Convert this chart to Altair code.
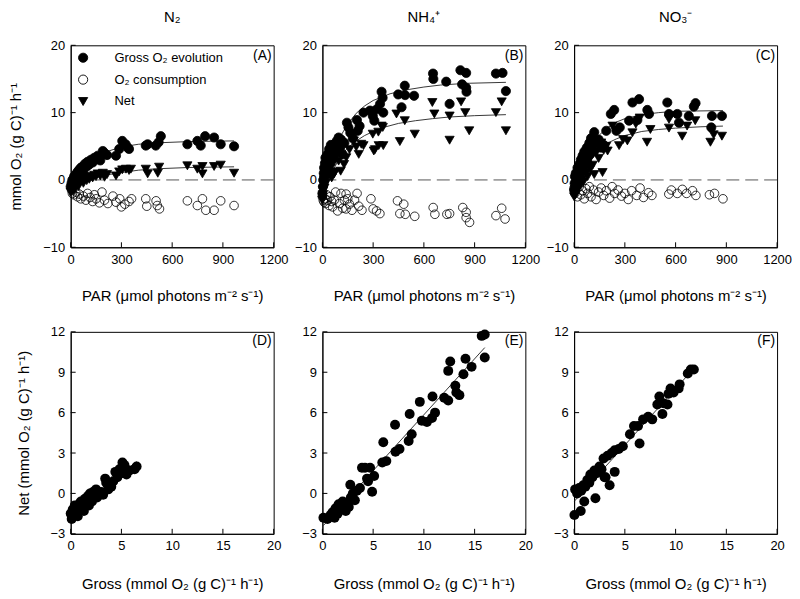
import altair as alt
import pandas as pd

FONT = "Liberation Sans"
SERIES = ["Gross O₂ evolution", "O₂ consumption", "Net"]
W, H = 204, 203

# ---------------- Panel A (N2): PAR response ----------------
A_gross_par = [0, 5, 10, 15, 20, 25, 30, 40, 45, 50, 60, 70, 75, 85, 95, 100, 110, 120, 130, 140,
               150, 160, 175, 190, 200, 215, 268, 287, 305, 325, 338, 345, 444, 455, 503, 520, 533,
               690, 749, 769, 795, 848, 887, 966]
A_gross_val = [-1.0, -0.5, 0.0, -0.3, 0.5, 0.2, 0.8, 1.2, 0.6, 1.5, 1.8, 2.0, 1.4, 2.4, 2.0, 2.7, 2.3, 3.0, 2.6, 3.3,
               3.1, 3.6, 2.9, 4.3, 4.0, 3.7, 3.6, 4.6, 5.8, 5.3, 4.8, 4.6, 5.1, 5.3, 5.1, 5.6, 6.5,
               5.3, 5.8, 5.1, 6.5, 6.3, 5.3, 5.0]
A_cons_par = [5, 10, 20, 30, 40, 50, 60, 75, 90, 100, 115, 130, 140, 150, 170, 185, 200, 220, 250, 268,
              290, 300, 320, 345, 360, 444, 450, 505, 512, 525, 690, 749, 779, 799, 848, 887, 966]
A_cons_val = [-1.5, -2.0, -2.2, -1.8, -2.5, -2.1, -2.8, -2.4, -3.0, -2.0, -2.6, -3.2, -2.2, -2.8, -3.4, -1.8, -3.0, -3.5, -2.4, -3.3,
              -2.8, -4.0, -3.6, -3.2, -2.8, -2.8, -3.9, -3.1, -3.8, -4.3, -3.1, -3.8, -2.8, -4.5, -4.5, -3.1, -3.8]
A_net_par = [0, 5, 10, 15, 20, 25, 30, 40, 45, 50, 60, 70, 75, 85, 95, 100, 110, 120, 130, 140,
             150, 160, 175, 190, 200, 215, 268, 287, 305, 327, 345, 356, 444, 455, 515, 523, 690, 749,
             779, 779, 848, 887, 966]
A_net_val = [-1.8, -1.5, -1.2, -1.6, -1.0, -1.3, -0.8, -0.5, -1.0, -0.3, -0.2, 0.0, -0.5, 0.2, -0.1, 0.4, 0.1, 0.5, 0.3, 0.7,
             0.5, 0.9, 0.6, 1.0, 0.4, 0.8, 0.6, 1.2, 1.5, 1.6, 1.4, 1.6, 1.6, 0.9, 1.0, 1.9, 2.1, 1.6,
             0.9, 2.0, 2.0, 2.2, 1.0]
A_fit_gross_par = [0, 50, 100, 150, 200, 300, 400, 500, 700, 966]
A_fit_gross_val = [-1.0, 1.2, 2.5, 3.4, 4.1, 4.9, 5.3, 5.5, 5.7, 5.8]
A_fit_net_par = [0, 50, 100, 200, 300, 400, 500, 700, 966]
A_fit_net_val = [-1.6, -0.6, 0.0, 0.7, 1.1, 1.45, 1.65, 1.85, 1.95]

# ---------------- Panel B (NH4+) ----------------
B_gross_par = [0, 3, 5, 8, 10, 12, 15, 18, 20, 25, 30, 35, 40, 45, 50, 55, 60, 70, 75, 85, 96, 105, 110, 120,
               130, 145, 154, 165, 180, 204, 209, 220, 243, 282, 298, 307, 321, 341, 350, 356, 360,
               448, 468, 487, 489, 542, 654, 656, 732, 752, 816, 826, 850, 850, 852, 1026, 1065, 1085]
B_gross_val = [-2.0, -1.0, 0.0, 1.0, 1.8, 0.5, 2.5, 3.3, 1.5, 2.2, 3.8, 2.8, 4.6, 3.5, 5.2, 4.0, 3.0, 5.3, 4.5, 5.8, 6.3, 4.8, 6.0, 3.8,
               5.5, 8.5, 7.8, 7.0, 6.2, 8.9, 7.3, 8.0, 10.0, 10.3, 9.5, 8.8, 10.5, 11.3, 13.1, 12.2, 10.0,
               12.7, 10.8, 14.0, 12.6, 12.5, 15.8, 15.0, 14.6, 11.3, 16.3, 14.2, 15.9, 13.7, 13.1, 15.8, 15.9, 13.2]
B_cons_par = [0, 5, 10, 15, 20, 25, 30, 40, 45, 55, 60, 70, 78, 90, 100, 110, 120, 130, 140, 140, 150, 160,
              175, 190, 205, 215, 234, 287, 300, 320, 340, 444, 458, 481, 490, 546, 655, 665, 736, 752,
              830, 850, 850, 870, 1026, 1060, 1080]
B_cons_val = [-2.5, -3.0, -3.3, -2.8, -3.5, -2.2, -3.0, -3.8, -2.5, -3.2, -4.0, -3.0, -1.8, -4.6, -3.5, -2.0, -4.2, -3.0, -2.1, -4.3, -2.8, -3.6,
              -4.5, -3.0, -2.0, -3.9, -4.5, -2.8, -4.3, -4.6, -5.0, -3.1, -5.0, -3.6, -5.1, -5.4, -4.1, -5.1, -5.1, -5.0,
              -4.1, -4.8, -5.6, -6.3, -5.3, -4.2, -5.8]
B_net_par = [0, 3, 5, 8, 10, 12, 15, 18, 20, 25, 30, 35, 40, 45, 50, 55, 60, 69, 75, 85, 96, 108, 128, 141,
             160, 186, 200, 215, 230, 243, 298, 304, 311, 331, 333, 350, 357, 360, 438, 458, 487, 546,
             650, 662, 752, 752, 820, 845, 868, 1026, 1060, 1085]
B_net_val = [-3.0, -2.2, -1.5, -0.8, 0.0, -1.2, 0.8, 0.2, -0.5, 1.5, 0.5, 2.0, 1.0, 2.5, 1.8, 0.3, 3.0, 0.9, 1.2, 3.5, 2.8, 1.3, 2.3, 3.3,
             4.5, 5.8, 4.9, 3.8, 5.3, 5.1, 6.8, 4.3, 4.5, 7.1, 5.1, 8.0, 7.8, 5.1, 9.8, 5.7, 8.8, 6.8,
             11.5, 9.8, 9.5, 5.9, 11.6, 10.0, 7.3, 10.0, 11.6, 7.3]
B_fit_gross_par = [0, 50, 100, 150, 200, 250, 300, 360, 400, 500, 600, 700, 850, 1085]
B_fit_gross_val = [-2.5, 2.8, 6.2, 8.3, 9.9, 11.0, 11.8, 12.4, 12.8, 13.4, 13.8, 14.1, 14.35, 14.5]
B_fit_net_par = [0, 50, 100, 150, 200, 250, 300, 360, 450, 550, 650, 750, 900, 1085]
B_fit_net_val = [-3.0, 0.8, 3.2, 4.8, 5.8, 6.6, 7.2, 7.8, 8.4, 8.8, 9.1, 9.35, 9.55, 9.7]

# ---------------- Panel C (NO3-) ----------------
C_gross_par = [0, 3, 5, 8, 10, 15, 20, 25, 30, 35, 40, 45, 50, 55, 60, 70, 75, 80, 90, 95, 100, 110, 119,
               130, 145, 160, 175, 190, 217, 237, 250, 270, 325, 345, 374, 384, 433, 443, 551, 561, 610,
               620, 678, 708, 718, 811, 815, 874]
C_gross_val = [-1.5, -0.5, 0.5, -1.0, 1.0, 0.2, 1.8, 1.0, 2.3, 0.5, 3.0, 2.0, 3.6, 1.5, 4.2, 3.2, 4.8, 2.5, 5.5, 3.8, 6.2, 4.5, 7.1,
               5.5, 6.0, 4.8, 5.2, 7.3, 9.8, 10.4, 7.3, 7.8, 8.8, 11.5, 8.9, 12.0, 10.4, 9.8, 11.5, 9.8, 9.8,
               8.5, 9.5, 10.9, 11.4, 7.8, 9.5, 9.5]
C_cons_par = [0, 5, 10, 20, 30, 40, 50, 60, 70, 80, 90, 100, 115, 130, 145, 160, 175, 190, 210, 225, 240,
              260, 280, 300, 320, 340, 370, 390, 410, 440, 460, 560, 575, 610, 640, 665, 700, 720, 800,
              830, 880]
C_cons_val = [-1.2, -2.0, -1.5, -2.5, -1.0, -2.2, -1.6, -2.8, -1.3, -2.0, -1.0, -2.5, -1.5, -2.9, -1.8, -1.2, -2.3, -1.6, -2.7, -1.0, -2.0,
              -1.5, -2.4, -2.0, -2.9, -1.6, -2.3, -1.2, -2.6, -1.9, -2.3, -2.1, -1.5, -2.0, -1.4, -2.0, -1.6, -2.3, -2.2,
              -2.0, -2.8]
C_net_par = [0, 3, 5, 8, 10, 15, 20, 25, 30, 35, 40, 45, 50, 55, 60, 70, 75, 80, 90, 95, 100, 110, 119,
             130, 145, 160, 168, 175, 190, 198, 227, 247, 266, 290, 315, 345, 365, 388, 431, 451, 561,
             561, 639, 668, 716, 806, 825, 874]
C_net_val = [-2.5, -2.0, -1.5, -2.2, -1.0, -1.6, -0.5, -1.2, 0.2, -0.8, 0.8, 0.0, 1.3, -0.3, 1.8, 1.0, 2.5, 0.5, 3.0, 1.6, 3.6, 2.2, 0.8,
             4.0, 3.2, 5.5, 1.1, 4.4, 5.0, 4.3, 8.0, 7.3, 5.1, 6.0, 5.8, 7.0, 8.3, 9.2, 5.6, 7.5, 9.0,
             7.7, 6.5, 8.0, 8.8, 5.6, 6.7, 6.5]
C_fit_gross_par = [0, 50, 100, 150, 200, 250, 300, 400, 500, 600, 880]
C_fit_gross_val = [-1.8, 2.5, 5.0, 6.7, 7.8, 8.6, 9.1, 9.7, 10.0, 10.2, 10.3]
C_fit_net_par = [0, 50, 100, 150, 200, 250, 300, 400, 500, 600, 750, 880]
C_fit_net_val = [-2.5, 1.2, 3.2, 4.6, 5.5, 6.1, 6.6, 7.2, 7.5, 7.7, 7.9, 8.0]

# ---------------- Bottom: Net vs Gross ----------------
D_gross = [0.0, 0.1, 0.2, 0.3, 0.4, 0.5, 0.6, 0.7, 0.8, 0.9, 1.0, 1.1, 1.2, 1.3, 1.4, 1.5, 1.6, 1.7, 1.8, 1.9,
           2.0, 2.1, 2.2, 2.3, 2.5, 2.6, 2.8, 3.0, 3.2, 3.4, 3.5, 3.7, 4.0, 4.2, 4.4, 4.6, 4.8, 5.0, 5.1,
           5.3, 5.5, 5.8, 6.3, 6.5]
D_net = [-1.5, -1.9, -1.2, -1.6, -0.9, -1.4, -1.1, -1.7, -0.8, -1.2, -0.6, -1.0, -0.7, -1.3, -0.4, -0.8, -0.5, -0.2, -0.9, 0.0,
         -0.4, -0.6, 0.1, -0.2, 0.3, -0.3, 0.0, 0.1, -0.1, 1.1, 0.8, 0.3, 0.5, 0.9, 1.6, 1.2, 1.8, 1.5, 2.3,
         2.1, 1.4, 1.7, 1.8, 2.0]
E_gross = [0.1, 0.5, 0.8, 1.0, 1.2, 1.3, 1.5, 1.6, 1.8, 2.0, 2.1, 2.3, 2.4, 2.6, 2.75, 2.8, 3.0, 3.2, 3.4, 3.7,
           3.9, 4.2, 4.4, 4.5, 4.7, 4.9, 5.1, 5.9, 6.0, 6.3, 7.16, 7.2, 7.6, 8.5, 8.6, 8.8, 9.6, 9.8, 10.3,
           10.8, 10.85, 11.1, 12.0, 12.4, 12.4, 12.6, 13.1, 13.2, 13.5, 13.9, 14.1, 14.7, 15.7, 16.0, 16.0]
E_net = [-1.8, -1.9, -1.6, -1.4, -1.8, -1.1, -1.5, -0.8, -1.2, -0.6, -1.0, -1.3, -0.7, -1.0, 0.65, -0.3, 0.0, -0.5, 0.2, 0.4,
         1.9, 1.9, 1.1, 0.9, 1.9, 0.13, 1.3, 2.3, 3.8, 2.4, 5.1, 3.1, 3.3, 3.9, 5.9, 4.4, 6.8, 5.4, 5.3,
         5.6, 7.2, 6.0, 7.1, 6.9, 9.1, 9.8, 8.0, 7.5, 7.3, 8.85, 10.0, 9.4, 11.7, 11.8, 10.1]
F_gross = [0.03, 0.65, 1.0, 2.1, 0.1, 0.3, 0.5, 0.7, 0.9, 1.1, 1.3, 1.5, 1.6, 1.8, 2.0, 2.2, 2.5, 2.7, 2.9, 3.0,
           3.1, 3.3, 3.5, 3.7, 4.0, 4.0, 4.4, 4.8, 5.5, 5.9, 6.45, 6.3, 6.8, 7.3, 7.7, 8.2, 8.4, 8.7, 8.8,
           9.2, 9.3, 9.5, 9.8, 10.3, 10.4, 11.2, 11.5, 11.8]
F_net = [-1.6, -1.3, -0.6, -0.36, 0.3, 0.0, 0.4, 0.2, 0.6, 0.5, 1.0, 0.8, 1.4, 1.2, 1.7, 1.5, 2.0, 1.8, 2.6, 1.2,
         1.2, 2.8, 0.6, 3.0, 1.6, 3.2, 3.3, 3.5, 4.4, 5.0, 3.7, 5.0, 5.5, 5.7, 5.5, 6.6, 7.2, 5.9, 6.7,
         6.6, 7.4, 7.8, 7.5, 7.8, 8.1, 8.9, 9.2, 9.2]

TOP_X_TICKS = [0, 300, 600, 900, 1200]
TOP_Y_TICKS = [-10, 0, 10, 20]
BOT_X_TICKS = [0, 5, 10, 15, 20]
BOT_Y_TICKS = [-3, 0, 3, 6, 9, 12]

PAR_TITLE = "PAR (μmol photons m⁻² s⁻¹)"
TOP_Y_TITLE = "mmol O₂ (g C)⁻¹ h⁻¹"
BOT_X_TITLE = "Gross (mmol O₂ (g C)⁻¹ h⁻¹)"
BOT_Y_TITLE = "Net (mmol O₂ (g C)⁻¹ h⁻¹)"


def points_df(gp, gv, cp, cv, np_, nv):
    rows = []
    for p, v in zip(gp, gv):
        rows.append({"x": p, "y": v, "s": SERIES[0]})
    for p, v in zip(cp, cv):
        rows.append({"x": p, "y": v, "s": SERIES[1]})
    for p, v in zip(np_, nv):
        rows.append({"x": p, "y": v, "s": SERIES[2]})
    return pd.DataFrame(rows)


def curves_df(gp, gv, np_, nv):
    rows = [{"x": p, "y": v, "s": "g"} for p, v in zip(gp, gv)]
    rows += [{"x": p, "y": v, "s": "n"} for p, v in zip(np_, nv)]
    return pd.DataFrame(rows)


def axes(xdom, ydom, xticks, yticks, xtitle, ytitle, xtp):
    xs = alt.Scale(domain=xdom, nice=False, zero=False)
    ys = alt.Scale(domain=ydom, nice=False, zero=False)
    common = dict(ticks=False, grid=False, labelPadding=6, labelFlush=False, labelOverlap=False,
                  format="d", labelFont=FONT, labelFontSize=13, labelColor="black",
                  titleFont=FONT, titleFontSize=15, titleFontWeight="normal", titleColor="black",
                  domainColor="black")
    xa = alt.Axis(values=xticks, title=xtitle, titlePadding=xtp, **common)
    if ytitle:
        ya = alt.Axis(values=yticks, title=ytitle, titlePadding=19, **common)
    else:
        ya = alt.Axis(values=yticks, title=None, **common)
    X = lambda: alt.X("x:Q", scale=xs, axis=xa)
    Y = lambda: alt.Y("y:Q", scale=ys, axis=ya)
    return X, Y


def tick_layers(X, Y, xticks, yticks):
    xt = alt.Chart(pd.DataFrame({"x": xticks})).mark_rule(color="black", strokeWidth=1).encode(
        x=X(), y=alt.value(H), y2=alt.value(H - 5))
    yt = alt.Chart(pd.DataFrame({"y": yticks})).mark_rule(color="black", strokeWidth=1).encode(
        y=Y(), x=alt.value(0), x2=alt.value(5))
    return [xt, yt]


def label_layer(txt, ypos):
    return alt.Chart(pd.DataFrame({"t": [txt]})).mark_text(
        align="right", baseline="middle", fontSize=14, font=FONT, color="black").encode(
        text="t:N", x=alt.value(W - 2), y=alt.value(ypos))


def top_panel(pts, crv, title, label, ytitle, legend):
    X, Y = axes([0, 1200], [-10, 20], TOP_X_TICKS, TOP_Y_TICKS, PAR_TITLE, ytitle, 22)
    zero = alt.Chart(pd.DataFrame({"y": [0]})).mark_rule(
        color="#555", strokeDash=[13, 6], strokeWidth=1).encode(y=Y())
    curves = alt.Chart(crv).mark_line(color="#222", strokeWidth=0.9).encode(
        x=X(), y=Y(), detail="s:N")
    if legend:
        leg = alt.Legend(title=None, orient="top-left", offset=6, labelFontSize=13, labelFont=FONT,
                         labelColor="black", symbolSize=85, symbolStrokeColor="black",
                         symbolStrokeWidth=0.9, rowPadding=8, labelOffset=25, padding=0)
    else:
        leg = None
    shape = alt.Shape("s:N", scale=alt.Scale(domain=SERIES, range=["circle", "circle", "triangle-down"]),
                      legend=leg)
    fill = alt.Fill("s:N", scale=alt.Scale(domain=SERIES, range=["black", "white", "black"]),
                    legend=leg)
    stroke = alt.Stroke("s:N", scale=alt.Scale(domain=SERIES, range=["black", "black", "black"]),
                        legend=leg)
    cons = pts[pts["s"] == SERIES[1]]
    cons_layer = alt.Chart(cons).mark_point(stroke="black", filled=False, strokeWidth=0.8,
                                            opacity=1, size=75).encode(x=X(), y=Y())
    pts_layer = alt.Chart(pts).transform_filter(
        alt.datum.s != SERIES[1]).mark_point(strokeWidth=0.8, opacity=1, size=85).encode(
        x=X(), y=Y(), shape=shape, fill=fill, stroke=stroke)
    layers = [zero, curves, cons_layer, pts_layer] + tick_layers(X, Y, TOP_X_TICKS, TOP_Y_TICKS) + \
        [label_layer(label, 11)]
    return alt.layer(*layers).properties(
        width=W, height=H,
        title=alt.TitleParams(title, fontSize=15, font=FONT, fontWeight="normal", offset=14, color="black"))


def bottom_panel(gx, ny, label, ytitle):
    X, Y = axes([0, 20], [-3, 12], BOT_X_TICKS, BOT_Y_TICKS, BOT_X_TITLE, ytitle, 24)
    df = pd.DataFrame({"x": gx, "y": ny})
    pts = alt.Chart(df).mark_circle(size=100, color="black", opacity=1).encode(x=X(), y=Y())
    reg = alt.Chart(df).transform_regression("x", "y").mark_line(color="#222", strokeWidth=0.9).encode(
        x=X(), y=Y())
    layers = [reg, pts] + tick_layers(X, Y, BOT_X_TICKS, BOT_Y_TICKS) + [label_layer(label, 9)]
    return alt.layer(*layers).properties(width=W, height=H)


pA = top_panel(points_df(A_gross_par, A_gross_val, A_cons_par, A_cons_val, A_net_par, A_net_val),
               curves_df(A_fit_gross_par, A_fit_gross_val, A_fit_net_par, A_fit_net_val),
               "N₂", "(A)", TOP_Y_TITLE, True)
pB = top_panel(points_df(B_gross_par, B_gross_val, B_cons_par, B_cons_val, B_net_par, B_net_val),
               curves_df(B_fit_gross_par, B_fit_gross_val, B_fit_net_par, B_fit_net_val),
               "NH₄⁺", "(B)", None, False)
pC = top_panel(points_df(C_gross_par, C_gross_val, C_cons_par, C_cons_val, C_net_par, C_net_val),
               curves_df(C_fit_gross_par, C_fit_gross_val, C_fit_net_par, C_fit_net_val),
               "NO₃⁻", "(C)", None, False)
pD = bottom_panel(D_gross, D_net, "(D)", BOT_Y_TITLE)
pE = bottom_panel(E_gross, E_net, "(E)", None)
pF = bottom_panel(F_gross, F_net, "(F)", None)

chart = alt.concat(pA, pB, pC, pD, pE, pF, columns=3,
                   spacing={"row": 85, "column": 49}, bounds="flush").resolve_scale(
    shape="independent", fill="independent", stroke="independent", x="independent", y="independent"
).configure(background="white", padding=0).configure_view(stroke="black", strokeWidth=1)

chart.save("out.html", embed_options={"renderer": "svg", "actions": False})
